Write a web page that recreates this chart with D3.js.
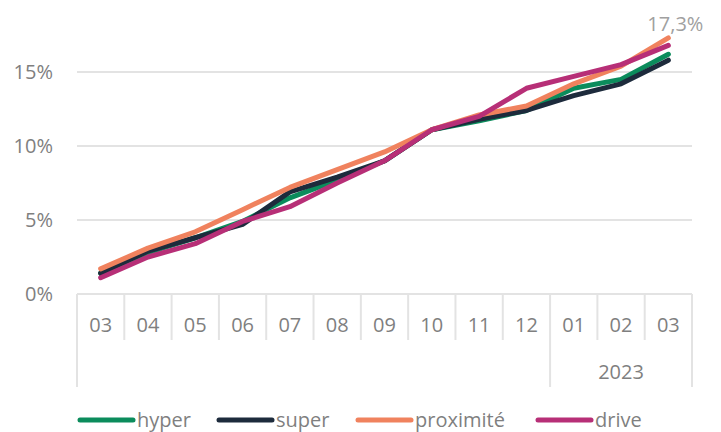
<!DOCTYPE html>
<head>
  <meta charset="utf-8">
  <title>hyper / super / proximité / drive</title>
<style>
html, body{
  width: 100%;
  height: 100%;
  margin: 0;
  padding: 0;
  background: #fff;
}
body{
  font-family: 'Open Sans', sans-serif;
}
.grid line { stroke: #e3e3e3; stroke-width: 2px; }
.sep { stroke: #e3e3e3; stroke-width: 2px; }
.lab { fill: #7f7f7f; font-size: 20px; }
.series { fill: none; stroke-width: 5px; stroke-linejoin: round; stroke-linecap: round; }
</style>
</head>
<body>
<svg width="721" height="432"></svg>
<script src="https://d3js.org/d3.v7.min.js"></script>
<script>
var months    = ["03","04","05","06","07","08","09","10","11","12","01","02","03"];
var years     = [{label: "", from: 0, to: 10}, {label: "2023", from: 10, to: 13}];
var yTicks    = [0, 5, 10, 15];
var names     = ["hyper", "super", "proximité", "drive"];
var colors    = ["#0b8c5c", "#1d2b3c", "#f0825e", "#b72f77"];

var hyper     = [1.4, 2.8, 3.8, 4.9, 6.5, 7.7, 9.0, 11.1, 11.7, 12.4, 13.9, 14.5, 16.2];
var superS    = [1.4, 2.9, 3.8, 4.7, 6.9, 7.9, 9.0, 11.1, 11.8, 12.4, 13.4, 14.2, 15.8];
var proximite = [1.7, 3.1, 4.2, 5.7, 7.2, 8.4, 9.6, 11.1, 12.1, 12.7, 14.2, 15.4, 17.3];
var drive     = [1.1, 2.5, 3.4, 4.9, 5.9, 7.5, 9.0, 11.1, 12.0, 13.9, 14.7, 15.5, 16.8];
var series    = [hyper, superS, proximite, drive];

var svg = d3.select("svg");

var x = d3.scaleBand()
    .domain(d3.range(months.length))
    .range([77, 692]);

var y = d3.scaleLinear()
    .domain([0, 20])
    .range([294, -2]);

function edge(i) { return i < months.length ? x(i) : x.range()[1]; }

// gridlines + y labels
var grid = svg.append("g").attr("class", "grid");
grid.selectAll("line").data(yTicks).enter().append("line")
    .attr("x1", 77).attr("x2", 692)
    .attr("y1", function(d) { return y(d); })
    .attr("y2", function(d) { return y(d); });

svg.selectAll(".ylab").data(yTicks).enter().append("text")
    .attr("class", "lab")
    .attr("x", 53)
    .attr("y", function(d) { return y(d) + 7; })
    .attr("text-anchor", "end")
    .text(function(d) { return d + "%"; });

// category separators (short for months, long at year boundaries)
var bounds = d3.range(months.length + 1);
var yearEdges = years.map(function(g) { return g.from; }).concat([months.length]);
svg.selectAll(".sep").data(bounds).enter().append("line")
    .attr("class", "sep")
    .attr("x1", edge)
    .attr("x2", edge)
    .attr("y1", y(0))
    .attr("y2", function(i) { return yearEdges.indexOf(i) >= 0 ? 387 : 340; });

svg.selectAll(".xlab").data(months).enter().append("text")
    .attr("class", "lab")
    .attr("x", function(d, i) { return x(i) + x.bandwidth() / 2; })
    .attr("y", 332)
    .attr("text-anchor", "middle")
    .text(function(d) { return d; });

svg.selectAll(".yrlab").data(years).enter().append("text")
    .attr("class", "lab")
    .attr("x", function(g) { return (edge(g.from) + edge(g.to)) / 2; })
    .attr("y", 379)
    .attr("text-anchor", "middle")
    .text(function(g) { return g.label; });

// lines
var line = d3.line()
    .x(function(d, i) { return x(i) + x.bandwidth() / 2; })
    .y(function(d) { return y(d); });

svg.selectAll(".series").data(series).enter().append("path")
    .attr("class", "series")
    .attr("stroke", function(d, i) { return colors[i]; })
    .attr("d", line);

// end label on proximité
var last = months.length - 1;
svg.append("text")
    .attr("x", x(last) + x.bandwidth() / 2 + 7)
    .attr("y", 31)
    .attr("text-anchor", "middle")
    .style("font-size", "20px")
    .style("fill", "#a0a0a0")
    .text(d3.format(".1f")(proximite[last]).replace(".", ",") + "%");

// legend
var legendX = [80, 219, 358, 538];
var leg = svg.selectAll(".leg").data(names).enter().append("g")
    .attr("transform", function(d, i) { return "translate(" + legendX[i] + ",420)"; });
leg.append("line")
    .attr("x1", 0).attr("x2", 53)
    .attr("stroke", function(d, i) { return colors[i]; })
    .attr("stroke-width", 5)
    .attr("stroke-linecap", "round");
leg.append("text")
    .attr("class", "lab")
    .attr("x", 57)
    .attr("y", 7)
    .text(function(d) { return d; });
</script>
</body>
